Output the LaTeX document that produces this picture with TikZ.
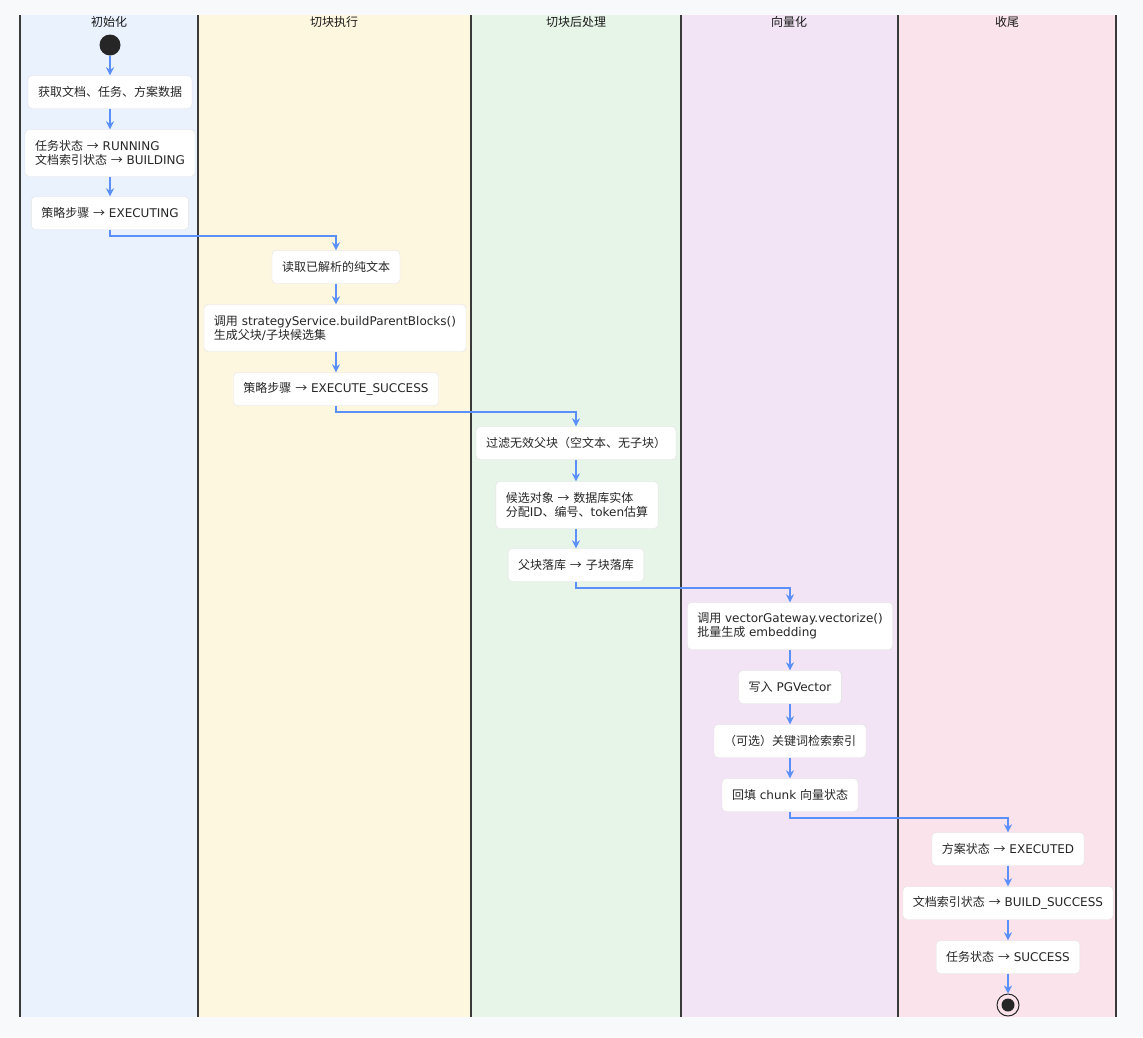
\documentclass[tikz,border=0pt]{standalone}
\usepackage{fontspec}
\setmainfont{DejaVu Sans}
\newfontfamily\cjkfont{Noto Sans CJK SC}
\newfontfamily\latinfont{DejaVu Sans}
\usepackage{xcolor}
\usetikzlibrary{
    arrows.meta,
    positioning
}
% switch to the CJK font for Chinese characters and the arrow
\XeTeXinterchartokenstate=1
\newXeTeXintercharclass\cjkclass
\newcount\cjkcode
\cjkcode="3000 \loop \XeTeXcharclass\cjkcode=\cjkclass \advance\cjkcode by 1 \ifnum\cjkcode<"3040 \repeat
\cjkcode="4E00 \loop \XeTeXcharclass\cjkcode=\cjkclass \advance\cjkcode by 1 \ifnum\cjkcode<"A000 \repeat
\cjkcode="FF00 \loop \XeTeXcharclass\cjkcode=\cjkclass \advance\cjkcode by 1 \ifnum\cjkcode<"FFF0 \repeat
\XeTeXcharclass"2192=\cjkclass
\XeTeXinterchartoks 0 \cjkclass = {\cjkfont}
\XeTeXinterchartoks 4095 \cjkclass = {\cjkfont}
\XeTeXinterchartoks \cjkclass 0 = {\latinfont}
\XeTeXinterchartoks \cjkclass 4095 = {\latinfont}
\XeTeXinterchartoks 4095 0 = {\latinfont}
\definecolor{pagebg}{HTML}{F8F9FB}
\definecolor{laneA}{HTML}{EAF2FE}
\definecolor{laneB}{HTML}{FEF7E0}
\definecolor{laneC}{HTML}{E7F5E8}
\definecolor{laneD}{HTML}{F2E4F5}
\definecolor{laneE}{HTML}{FBE3EB}
\definecolor{flowblue}{HTML}{5B8FF9}
\definecolor{boxline}{HTML}{E2E2E2}
\definecolor{laneline}{HTML}{3A3A3A}

\begin{document}
\begin{tikzpicture}[x=1pt, y=-1pt,
    act/.style={draw=boxline, fill=white, rounded corners=4pt, inner xsep=10pt, inner ysep=0pt,
        minimum height=33pt, font=\fontsize{12}{14}\selectfont, text=black!85},
    act2/.style={act, align=left, minimum height=47pt},
    lanetitle/.style={font=\fontsize{12}{14}\selectfont, text=black!90},
    flow/.style={draw=flowblue, line width=1.6pt, -{Stealth[length=8pt, width=8pt, inset=2.5pt]}}]
    % page and lanes
    \fill[pagebg] (0, 0) rectangle (1143, 1037);
    \fill[laneA] (20, 15) rectangle (198, 1017);
    \fill[laneB] (198, 15) rectangle (471, 1017);
    \fill[laneC] (471, 15) rectangle (681, 1017);
    \fill[laneD] (681, 15) rectangle (898, 1017);
    \fill[laneE] (898, 15) rectangle (1116, 1017);
    \foreach \x in {20, 198, 471, 681, 898, 1116} {
        \draw[laneline, line width=1.3pt] (\x, 15) -- (\x, 1017);
    }
    \node[lanetitle] (t1) at (109, 22) {初始化};
    \node[lanetitle] (t2) at (334, 22) {切块执行};
    \node[lanetitle] (t3) at (576, 22) {切块后处理};
    \node[lanetitle] (t4) at (789, 22) {向量化};
    \node[lanetitle] (t5) at (1007, 22) {收尾};

    % 初始化
    \node[circle, fill=black!85, inner sep=0pt, minimum size=21pt] (start) at (110, 45) {};
    \node[act] (fetch) at (110, 92) {获取文档、任务、方案数据};
    \node[act2] (running) at (110, 153) {任务状态 → RUNNING\\文档索引状态 → BUILDING};
    \node[act] (executing) at (110, 213) {策略步骤 → EXECUTING};

    % 切块执行
    \node[act] (readtext) at (336, 267) {读取已解析的纯文本};
    \node[act2] (build) at (335, 328) {调用 strategyService.buildParentBlocks()\\生成父块/子块候选集};
    \node[act] (execsuccess) at (336, 389) {策略步骤 → EXECUTE\_SUCCESS};

    % 切块后处理
    \node[act] (filter) at (576, 443) {过滤无效父块（空文本、无子块）};
    \node[act2] (entity) at (577, 505) {候选对象 → 数据库实体\\分配ID、编号、token估算};
    \node[act] (persist) at (576, 565) {父块落库 → 子块落库};

    % 向量化
    \node[act2] (vectorize) at (790, 626) {调用 vectorGateway.vectorize()\\批量生成 embedding};
    \node[act] (pgvector) at (790, 687) {写入 PGVector};
    \node[act] (keyword) at (790, 741) {（可选）关键词检索索引};
    \node[act] (backfill) at (790, 795) {回填 chunk 向量状态};

    % 收尾
    \node[act] (planexec) at (1008, 849) {方案状态 → EXECUTED};
    \node[act] (buildok) at (1008, 903) {文档索引状态 → BUILD\_SUCCESS};
    \node[act] (taskok) at (1008, 957) {任务状态 → SUCCESS};
    \node[circle, draw=black!85, line width=1pt, inner sep=0pt, minimum size=22pt] (stop) at (1008, 1005) {};
    \node[circle, fill=black!85, inner sep=0pt, minimum size=13pt] (stopdot) at (stop) {};

    % connectors
    \draw[flow] (start) -- (fetch);
    \draw[flow] (fetch) -- (running);
    \draw[flow] (running) -- (executing);
    \draw[flow] (executing.south) -- ++(0, 6) -| (readtext.north);
    \draw[flow] (readtext) -- (readtext |- build.north);
    \draw[flow] (readtext |- build.south) -- (execsuccess);
    \draw[flow] (execsuccess.south) -- ++(0, 6) -| (filter.north);
    \draw[flow] (filter.south) -- (filter.south |- entity.north);
    \draw[flow] (filter.south |- entity.south) -- (persist);
    \draw[flow] (persist.south) -- ++(0, 6) -| (vectorize.north);
    \draw[flow] (vectorize) -- (pgvector);
    \draw[flow] (pgvector) -- (keyword);
    \draw[flow] (keyword) -- (backfill);
    \draw[flow] (backfill.south) -- ++(0, 6) -| (planexec.north);
    \draw[flow] (planexec) -- (buildok);
    \draw[flow] (buildok) -- (taskok);
    \draw[flow] (taskok) -- (stop);
\end{tikzpicture}
\end{document}
